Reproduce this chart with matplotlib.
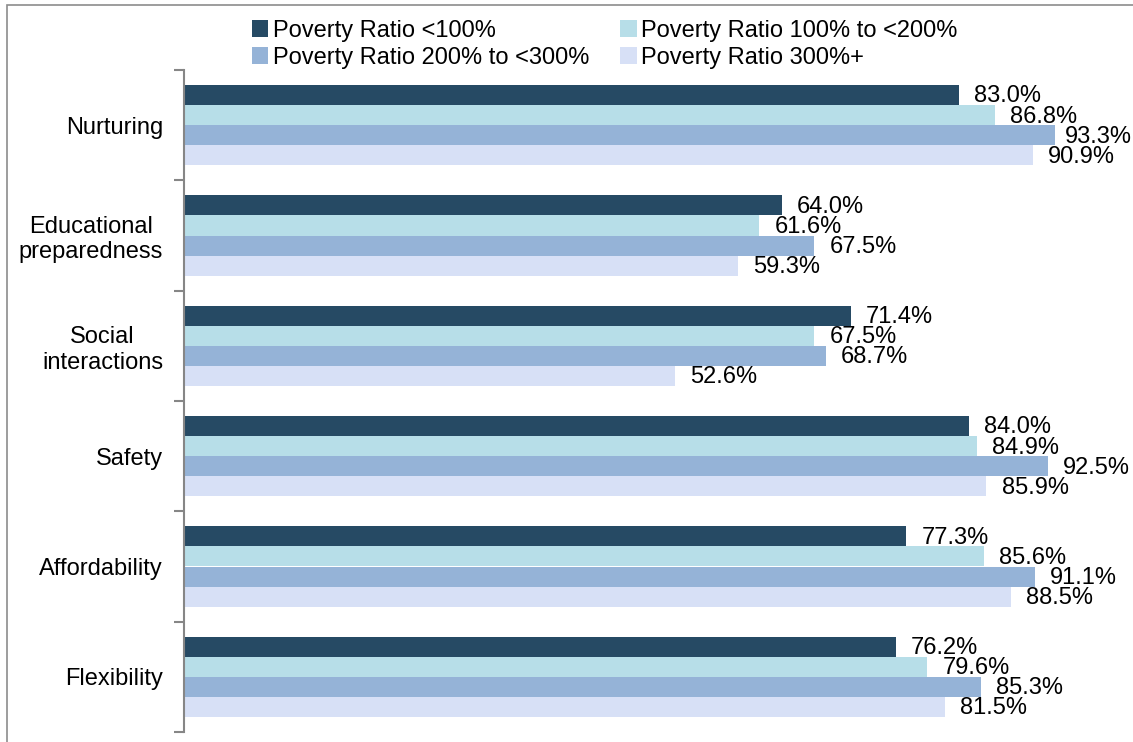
import numpy as np
import matplotlib.pyplot as plt
from matplotlib.patches import Rectangle

plt.rcParams['font.family'] = ['Liberation Sans', 'DejaVu Sans']

categories = ["Nurturing", "Educational\npreparedness", "Social\ninteractions",
              "Safety", "Affordability", "Flexibility"]
series_names = ["Poverty Ratio <100%", "Poverty Ratio 100% to <200%",
                "Poverty Ratio 200% to <300%", "Poverty Ratio 300%+"]
pov_lt100 = [83.0, 64.0, 71.4, 84.0, 77.3, 76.2]
pov_100_200 = [86.8, 61.6, 67.5, 84.9, 85.6, 79.6]
pov_200_300 = [93.3, 67.5, 68.7, 92.5, 91.1, 85.3]
pov_300plus = [90.9, 59.3, 52.6, 85.9, 88.5, 81.5]
colors = ['#264A64', '#B7DEE8', '#95B3D7', '#D7E0F6']

series = [pov_lt100, pov_100_200, pov_200_300, pov_300plus]

fig = plt.figure(figsize=(11.33, 7.42), dpi=100)
ax = fig.add_axes([184 / 1133, 10 / 742, (1118 - 184) / 1133, (672 - 10) / 742])

# outer chart border
fig.patches.append(Rectangle((7 / 1133, -0.05), 1.2, 1.05 - 5 / 742,
                             transform=fig.transFigure, fill=False,
                             edgecolor='#8C8C8C', linewidth=1.2))

y = np.arange(len(categories))
h = 0.182
handles = []
labels = []
for j, (vals, name, c) in enumerate(zip(series, series_names, colors)):
    pos = y + (j - 1.5) * h
    bars = ax.barh(pos, vals, height=h, color=c, label=name)
    handles.append(bars)
    for p, v in zip(pos, vals):
        t = ax.annotate(f"{v:.1f}%", (v, p), xytext=(11, -1), textcoords='offset points',
                        va='center', ha='left', fontsize=17)
        labels.append(t)

ax.set_xlim(0, 100)
ax.set_ylim(len(categories) - 0.5, -0.5)
ax.set_yticks(y)
ax.set_yticklabels(categories, fontsize=17, multialignment='center')
ax.set_yticks(np.arange(len(categories) + 1) - 0.5, minor=True)
ax.tick_params(axis='y', which='major', length=0, pad=15)
ax.tick_params(axis='y', which='minor', length=7, width=1.5, color='#868686')
ax.xaxis.set_visible(False)
for s in ['top', 'right', 'bottom']:
    ax.spines[s].set_visible(False)
ax.spines['left'].set_color('#868686')
ax.spines['left'].set_linewidth(1.5)

order = [0, 2, 1, 3]
fig.legend([handles[i] for i in order], [series_names[i] for i in order],
           loc='upper left', bbox_to_anchor=(240 / 1133, 1 - 8 / 742), ncol=2,
           frameon=False, fontsize=17, handlelength=0.7, handleheight=0.7,
           handletextpad=0.2, columnspacing=1.3, labelspacing=0.2, borderpad=0)

# pull labels that would run off the right edge back inside
fig.canvas.draw()
r = fig.canvas.get_renderer()
W = fig.bbox.width
for t in labels:
    bb = t.get_window_extent(r)
    if bb.x1 > W - 1:
        dx = (bb.x1 - (W - 1)) * 72 / fig.dpi
        ox, oy = t.xyann
        t.xyann = (ox - dx, oy)

fig.savefig("out.png", dpi=100)
